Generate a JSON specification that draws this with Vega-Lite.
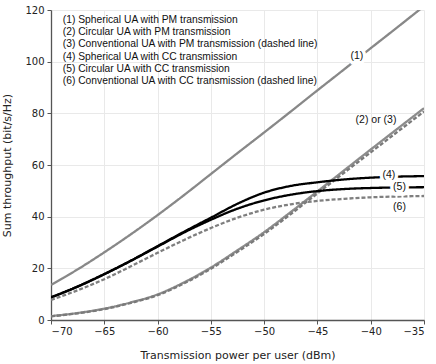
{
  "$schema": "https://vega.github.io/schema/vega-lite/v6.json",
  "autosize": "none",
  "width": 373,
  "height": 310,
  "padding": {"left": 51, "top": 10, "right": 12, "bottom": 44},
  "background": "white",
  "config": {
    "view": {"stroke": null},
    "axis": {
      "grid": true,
      "gridColor": "#e9e9e9",
      "gridWidth": 1,
      "domainColor": "#555555",
      "domainWidth": 1.3,
      "tickColor": "#555555",
      "tickSize": 4,
      "labelFont": "DejaVu Sans",
      "labelFontSize": 10,
      "labelColor": "#222222",
      "titleFont": "DejaVu Sans",
      "titleFontSize": 11,
      "titleFontWeight": "normal",
      "titleColor": "#222222"
    }
  },
  "datasets": {
    "curves": [
      {"s": "1", "x": -70, "y": 13.6}, {"s": "1", "x": -67.5, "y": 19.6}, {"s": "1", "x": -65, "y": 26.2}, {"s": "1", "x": -62.5, "y": 33.2}, {"s": "1", "x": -60, "y": 40.6}, {"s": "1", "x": -57.5, "y": 48.4}, {"s": "1", "x": -55, "y": 56.5}, {"s": "1", "x": -52.5, "y": 64.6}, {"s": "1", "x": -50, "y": 72.6}, {"s": "1", "x": -47.5, "y": 80.7}, {"s": "1", "x": -45, "y": 88.9}, {"s": "1", "x": -42.5, "y": 97}, {"s": "1", "x": -40, "y": 105.2}, {"s": "1", "x": -37.5, "y": 113.3}, {"s": "1", "x": -35, "y": 121.5},
      {"s": "2", "x": -70, "y": 1.5}, {"s": "2", "x": -67.5, "y": 2.7}, {"s": "2", "x": -65, "y": 4.4}, {"s": "2", "x": -62.5, "y": 6.8}, {"s": "2", "x": -60, "y": 9.9}, {"s": "2", "x": -57.5, "y": 14.6}, {"s": "2", "x": -55, "y": 20.3}, {"s": "2", "x": -52.5, "y": 27}, {"s": "2", "x": -50, "y": 34}, {"s": "2", "x": -47.5, "y": 41.8}, {"s": "2", "x": -45, "y": 49.8}, {"s": "2", "x": -42.5, "y": 57.9}, {"s": "2", "x": -40, "y": 66}, {"s": "2", "x": -37.5, "y": 74}, {"s": "2", "x": -35, "y": 82},
      {"s": "3", "x": -70, "y": 1.4}, {"s": "3", "x": -67.5, "y": 2.6}, {"s": "3", "x": -65, "y": 4.2}, {"s": "3", "x": -62.5, "y": 6.6}, {"s": "3", "x": -60, "y": 9.6}, {"s": "3", "x": -57.5, "y": 14.2}, {"s": "3", "x": -55, "y": 19.8}, {"s": "3", "x": -52.5, "y": 26.4}, {"s": "3", "x": -50, "y": 33.3}, {"s": "3", "x": -47.5, "y": 41}, {"s": "3", "x": -45, "y": 49}, {"s": "3", "x": -42.5, "y": 57}, {"s": "3", "x": -40, "y": 64.9}, {"s": "3", "x": -37.5, "y": 72.8}, {"s": "3", "x": -35, "y": 80.7},
      {"s": "4", "x": -70, "y": 8.8}, {"s": "4", "x": -67.5, "y": 13}, {"s": "4", "x": -65, "y": 17.8}, {"s": "4", "x": -62.5, "y": 23}, {"s": "4", "x": -60, "y": 28.6}, {"s": "4", "x": -57.5, "y": 34.2}, {"s": "4", "x": -55, "y": 39.6}, {"s": "4", "x": -52.5, "y": 45}, {"s": "4", "x": -50, "y": 49.3}, {"s": "4", "x": -47.5, "y": 51.9}, {"s": "4", "x": -45, "y": 53.3}, {"s": "4", "x": -42.5, "y": 54.4}, {"s": "4", "x": -40, "y": 55.1}, {"s": "4", "x": -37.5, "y": 55.5}, {"s": "4", "x": -35, "y": 55.7},
      {"s": "5", "x": -70, "y": 8.7}, {"s": "5", "x": -67.5, "y": 12.9}, {"s": "5", "x": -65, "y": 17.7}, {"s": "5", "x": -62.5, "y": 22.9}, {"s": "5", "x": -60, "y": 28.4}, {"s": "5", "x": -57.5, "y": 33.9}, {"s": "5", "x": -55, "y": 38.8}, {"s": "5", "x": -52.5, "y": 43.1}, {"s": "5", "x": -50, "y": 46.3}, {"s": "5", "x": -47.5, "y": 48.5}, {"s": "5", "x": -45, "y": 49.9}, {"s": "5", "x": -42.5, "y": 50.7}, {"s": "5", "x": -40, "y": 51.1}, {"s": "5", "x": -37.5, "y": 51.3}, {"s": "5", "x": -35, "y": 51.4},
      {"s": "6", "x": -70, "y": 7.8}, {"s": "6", "x": -67.5, "y": 11.5}, {"s": "6", "x": -65, "y": 15.8}, {"s": "6", "x": -62.5, "y": 20.8}, {"s": "6", "x": -60, "y": 26}, {"s": "6", "x": -57.5, "y": 31}, {"s": "6", "x": -55, "y": 35.6}, {"s": "6", "x": -52.5, "y": 39.6}, {"s": "6", "x": -50, "y": 42.7}, {"s": "6", "x": -47.5, "y": 44.8}, {"s": "6", "x": -45, "y": 46.1}, {"s": "6", "x": -42.5, "y": 46.9}, {"s": "6", "x": -40, "y": 47.5}, {"s": "6", "x": -37.5, "y": 47.8}, {"s": "6", "x": -35, "y": 48}
    ],
    "labels": [
      {"x": -41.3, "y": 102.3, "t": "(1)", "halo": true},
      {"x": -39.5, "y": 77.4, "t": "(2) or (3)", "halo": false},
      {"x": -38.3, "y": 56.1, "t": "(4)", "halo": true},
      {"x": -37.3, "y": 51.4, "t": "(5)", "halo": true},
      {"x": -37.3, "y": 43.9, "t": "(6)", "halo": false}
    ],
    "legend": [
      {"x": -68.9, "y": 116.1, "t": "(1) Spherical UA with PM transmission"},
      {"x": -68.9, "y": 111.4, "t": "(2) Circular UA with PM transmission"},
      {"x": -68.9, "y": 106.7, "t": "(3) Conventional UA with PM transmission (dashed line)"},
      {"x": -68.9, "y": 102.0, "t": "(4) Spherical UA with CC transmission"},
      {"x": -68.9, "y": 97.3, "t": "(5) Circular UA with CC transmission"},
      {"x": -68.9, "y": 92.5, "t": "(6) Conventional UA with CC transmission (dashed line)"}
    ]
  },
  "layer": [
    {
      "data": {"name": "curves"},
      "mark": {"type": "line", "interpolate": "monotone", "clip": true, "strokeWidth": 2.3},
      "encoding": {
        "x": {"field": "x", "type": "quantitative", "scale": {"domain": [-70, -35], "nice": false, "zero": false},
          "axis": {"values": [-70, -65, -60, -55, -50, -45, -40, -35], "title": "Transmission power per user (dBm)", "labelPadding": 2, "titlePadding": 13}},
        "y": {"field": "y", "type": "quantitative", "scale": {"domain": [0, 120], "nice": false},
          "axis": {"values": [0, 20, 40, 60, 80, 100, 120], "title": "Sum throughput (bit/s/Hz)", "labelPadding": 3, "titlePadding": 12}},
        "color": {"field": "s", "type": "nominal", "legend": null,
          "scale": {"domain": ["1", "2", "3", "4", "5", "6"], "range": ["#888888", "#8c8c8c", "#7a7a7a", "#000000", "#000000", "#7f7f7f"]}},
        "strokeDash": {"field": "s", "type": "nominal", "legend": null,
          "scale": {"domain": ["1", "2", "3", "4", "5", "6"], "range": [[1, 0], [1, 0], [4, 2], [1, 0], [1, 0], [4, 2]]}}
      }
    },
    {
      "data": {"name": "labels"},
      "transform": [{"filter": "datum.halo"}],
      "mark": {"type": "text", "font": "Liberation Sans", "fontSize": 10.5, "stroke": "white", "strokeWidth": 7, "fill": "white", "align": "center", "baseline": "middle"},
      "encoding": {
        "x": {"field": "x", "type": "quantitative"},
        "y": {"field": "y", "type": "quantitative"},
        "text": {"field": "t"}
      }
    },
    {
      "data": {"name": "labels"},
      "mark": {"type": "text", "font": "Liberation Sans", "fontSize": 10.5, "color": "#111111", "align": "center", "baseline": "middle"},
      "encoding": {
        "x": {"field": "x", "type": "quantitative"},
        "y": {"field": "y", "type": "quantitative"},
        "text": {"field": "t"}
      }
    },
    {
      "data": {"name": "legend"},
      "mark": {"type": "text", "font": "Liberation Sans", "fontSize": 10.3, "color": "#111111", "align": "left", "baseline": "middle"},
      "encoding": {
        "x": {"field": "x", "type": "quantitative"},
        "y": {"field": "y", "type": "quantitative"},
        "text": {"field": "t"}
      }
    }
  ]
}
